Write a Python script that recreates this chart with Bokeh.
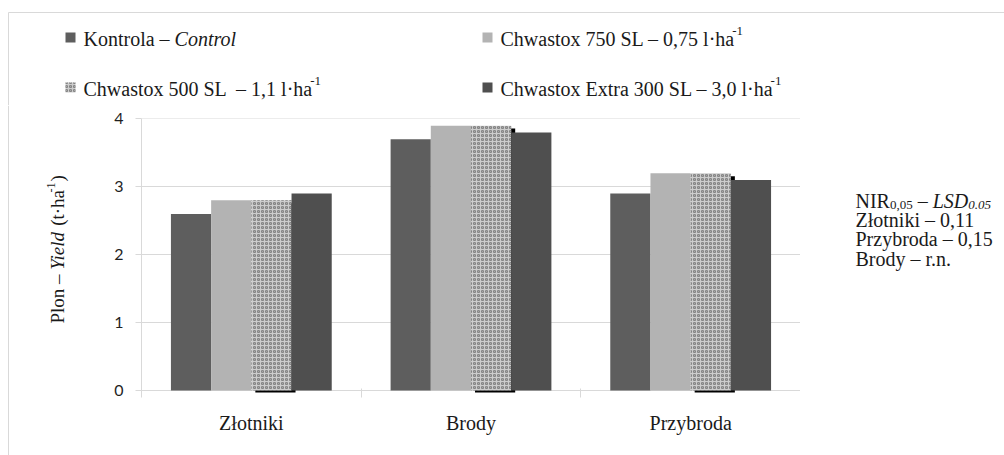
from bokeh.plotting import figure
from bokeh.models import Range1d, FixedTicker
from bokeh.layouts import column, row
from bokeh.core.properties import value
from bokeh.embed import file_html
from bokeh.resources import INLINE
import math

# ---------------- data ----------------
categories = ["Złotniki", "Brody", "Przybroda"]
kontrola = [2.6, 3.7, 2.9]
chw750 = [2.8, 3.9, 3.2]
chw500 = [2.8, 3.9, 3.2]
extra300 = [2.9, 3.8, 3.1]
y_ticks = [0, 1, 2, 3, 4]

legend_main = ["Kontrola – ", "Chwastox 750 SL – 0,75 l·ha",
               "Chwastox 500 SL \u00a0– 1,1 l·ha", "Chwastox Extra 300 SL – 3,0 l·ha"]
legend_italic = ["Control", "", "", ""]
legend_sup = ["", "-1", "-1", "-1"]

nir_head = ["NIR", "0,05", " – ", "LSD", "0.05"]
nir_lines = ["Złotniki – 0,11", "Przybroda – 0,15", "Brody – r.n."]

ylabel_parts = ["Plon – ", "Yield", " (t·ha", "-1", ")"]

# ---------------- styling helpers ----------------
SERIF = "Liberation Serif"
TXT = "#1a1a1a"
GRID = "#d9d9d9"
REG = {' ': 250, '\u00a0': 250, 'P': 556, 'l': 278, 'o': 500, 'n': 500, '–': 500,
       '(': 333, ')': 333, 't': 278, '·': 250, 'h': 500, 'a': 444, 'K': 722, 'r': 333,
       'C': 667, 'w': 722, 's': 389, 'x': 500, 'S': 556, 'L': 611, ',': 250, 'E': 611,
       '-': 333, 'N': 722, 'I': 333, 'R': 667, 'Z': 611, 'ł': 278, 'k': 500, 'i': 278,
       'z': 444, 'y': 500, 'b': 500, 'd': 500, 'B': 667, '.': 250, 'e': 444}
ITA = {'C': 667, 'o': 500, 'n': 500, 't': 278, 'r': 389, 'l': 278, 'Y': 556, 'i': 278,
       'e': 444, 'd': 500, 'L': 556, 'S': 500, 'D': 722, '.': 250}


def tw(s, size, italic=False):
    m = ITA if italic else REG
    return sum(m.get(c, 500) for c in s) * size / 1000.0


W, H = 1004, 455
TOP_H = 105          # height of legend strip
LEFT_W = 100         # width of y-title strip
RIGHT_X = 800        # page x where the note strip starts
FL, FT, FB = 141, 118, 395  # frame edges (page pixels)
TEXT_SHIFT = 7       # empirical correction of the rendered baseline
colors = ["#5e5e5e", "#b3b3b3", "#cdcdcd", "#4f4f4f"]
HATCH = dict(hatch_pattern="ring", hatch_scale=4, hatch_color="#858585", hatch_weight=1.2)


def no_align(f):
    try:
        f.frame_align = False
    except Exception:
        pass


def blank(w, h):
    f = figure(width=w, height=h, output_backend="svg", toolbar_location=None,
               x_range=Range1d(0, w), y_range=Range1d(0, h),
               x_axis_location=None, y_axis_location=None,
               min_border=0, min_border_left=0, min_border_right=0,
               min_border_top=0, min_border_bottom=0)
    f.grid.visible = False
    f.outline_line_color = None
    f.background_fill_color = "white"
    f.border_fill_color = "white"
    no_align(f)
    return f


class Writer:
    """Places text pieces on a helper figure using page-pixel positions."""

    def __init__(self, fig, x0, y0, h):
        self.f, self.x0, self.y0, self.h = fig, x0, y0, h

    def put(self, text, X, Y, size, italic=False, angle=0.0):
        # leading blanks are collapsed by SVG: advance by their width instead
        lead = len(text) - len(text.lstrip(" "))
        adv = tw(text[:lead], size, italic)
        text = text.lstrip(" ")
        if angle:
            X, Y = X - TEXT_SHIFT, Y - adv
        else:
            X, Y = X + adv, Y - TEXT_SHIFT
        self.f.text(x=[X - self.x0], y=[self.y0 + self.h - Y], text=[text],
                    text_font=value(SERIF), text_font_size=value(f"{size}px"),
                    text_font_style=value("italic" if italic else "normal"),
                    text_color=value(TXT), text_align=value("left"),
                    text_baseline=value("alphabetic"),
                    angle=value(angle))


# ================= legend strip =================
top = blank(W, TOP_H)
tw_ = Writer(top, 0, 0, TOP_H)
# outer light frame (top and left edge)
top.segment(x0=[8, 8], y0=[TOP_H - 12, TOP_H - 12], x1=[W, 8], y1=[TOP_H - 12, 0],
            line_color=GRID, line_width=1)
leg_pos = [(65, 45), (482, 45), (65, 95), (482, 95)]
for k in range(4):
    X0, Yb = leg_pos[k]
    extra = HATCH if k == 2 else {}
    top.quad(left=[X0], right=[X0 + 10], top=[TOP_H - (Yb - 13)], bottom=[TOP_H - (Yb - 3)],
             fill_color=colors[k], line_color=None, **extra)
    tx = X0 + 18
    tw_.put(legend_main[k], tx, Yb, 20)
    tx += tw(legend_main[k], 20)
    if legend_italic[k]:
        tw_.put(legend_italic[k], tx, Yb, 20, italic=True)
        tx += tw(legend_italic[k], 20, True)
    if legend_sup[k]:
        tw_.put(legend_sup[k], tx - 1, Yb - 8, 13)

# ================= y-title strip =================
MID_H = H - TOP_H
left = blank(LEFT_W, MID_H)
lw = Writer(left, 0, TOP_H, MID_H)
left.segment(x0=[8], y0=[0], x1=[8], y1=[MID_H], line_color=GRID, line_width=1)
yb_x = 64
pos = 323.0
lw.put(ylabel_parts[0], yb_x, pos, 19, angle=math.pi / 2)
pos -= tw(ylabel_parts[0], 19)
lw.put(ylabel_parts[1], yb_x, pos, 19, italic=True, angle=math.pi / 2)
pos -= tw(ylabel_parts[1], 19, True)
lw.put(ylabel_parts[2], yb_x, pos, 19, angle=math.pi / 2)
pos -= tw(ylabel_parts[2], 19)
lw.put(ylabel_parts[3], yb_x - 7, pos + 1, 12, angle=math.pi / 2)
pos -= tw(ylabel_parts[3], 12)
lw.put(ylabel_parts[4], yb_x, pos, 19, angle=math.pi / 2)

# ================= main chart =================
p = figure(width=RIGHT_X - LEFT_W, height=MID_H, output_backend="svg",
           toolbar_location=None,
           x_range=Range1d(0, 3), y_range=Range1d(-0.075, 4.005),
           min_border_left=FL - LEFT_W, min_border_right=0,
           min_border_top=FT - TOP_H, min_border_bottom=H - FB)
p.outline_line_color = None
p.background_fill_color = "white"
p.border_fill_color = "white"
no_align(p)

bw = 0.183
centers = [i + 0.5 for i in range(len(categories))]
xs = [[c + (k - 1.5) * bw for c in centers] for k in range(4)]

p.vbar(x=xs[0], top=kontrola, bottom=0, width=bw, fill_color=colors[0], line_color=None)
p.vbar(x=xs[1], top=chw750, bottom=0, width=bw, fill_color=colors[1], line_color=None)
# slight dark shadow of the textured bars
p.vbar(x=[x + 4 / 219.7 for x in xs[2]], top=[v - 3 / 68 for v in chw500],
       bottom=-2 / 68, width=bw, fill_color="black", line_color=None)
p.vbar(x=xs[2], top=chw500, bottom=0, width=bw, fill_color=colors[2], line_color=None,
       **HATCH)
p.vbar(x=xs[3], top=extra300, bottom=0, width=bw, fill_color=colors[3], line_color=None)

p.xgrid.visible = False
p.ygrid.ticker = FixedTicker(ticks=y_ticks)
p.ygrid.grid_line_color = GRID

ya = p.yaxis[0]
ya.ticker = FixedTicker(ticks=y_ticks)
ya.axis_line_color = GRID
ya.major_tick_line_color = GRID
ya.major_tick_in = 0
ya.major_tick_out = 6
ya.minor_tick_line_color = None
ya.major_label_text_font = "Lato"
ya.major_label_text_font_size = "16px"
ya.major_label_text_color = "#1f1f1f"
ya.major_label_standoff = 12

xa = p.xaxis[0]
xa.ticker = FixedTicker(ticks=centers, minor_ticks=[0, 1, 2, 3])
xa.major_label_overrides = {c: name for c, name in zip(centers, categories)}
xa.axis_line_color = None
xa.major_tick_line_color = None
xa.major_tick_in = 0
xa.major_tick_out = 0
xa.minor_tick_line_color = GRID
xa.minor_tick_in = 7
xa.minor_tick_out = 2
xa.major_label_text_font = SERIF
xa.major_label_text_font_size = "20px"
xa.major_label_text_color = TXT
xa.major_label_standoff = 14

# ================= note strip (NIR / LSD) =================
right = blank(W - RIGHT_X, MID_H)
rw = Writer(right, RIGHT_X, TOP_H, MID_H)
nx, nb = 855, 207
x = nx
rw.put(nir_head[0], x, nb, 20); x += tw(nir_head[0], 20)
rw.put(nir_head[1], x, nb + 4, 13); x += tw(nir_head[1], 13)
rw.put(nir_head[2], x, nb, 20); x += tw(nir_head[2], 20)
rw.put(nir_head[3], x, nb, 20, italic=True); x += tw(nir_head[3], 20, True)
rw.put(nir_head[4], x, nb + 4, 13, italic=True)
for i, line in enumerate(nir_lines):
    rw.put(line, nx, nb + 19.4 * (i + 1), 20)

mid = row(left, p, right, spacing=0)
page = column(top, mid, spacing=0)
open("out.html", "w").write(file_html(page, INLINE))
